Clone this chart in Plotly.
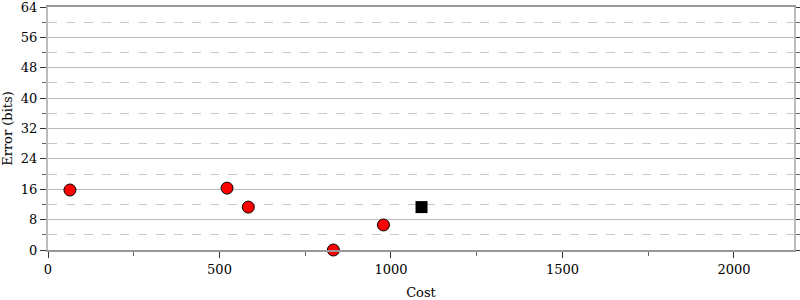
import plotly.graph_objects as go

cost_red = [64, 522, 584, 832, 978]
err_red = [15.8, 16.3, 11.3, 0.0, 6.6]
cost_black = [1089]
err_black = [11.3]

y_ticks = list(range(0, 65, 8))
x_ticks = [0, 500, 1000, 1500, 2000]

fig = go.Figure()
fig.add_trace(go.Scatter(x=cost_red, y=err_red, mode="markers",
                         marker=dict(symbol="circle", size=12, color="#ff0000",
                                     line=dict(color="black", width=1)),
                         cliponaxis=False, showlegend=False))
fig.add_trace(go.Scatter(x=cost_black, y=err_black, mode="markers",
                         marker=dict(symbol="square", size=12, color="black",
                                     line=dict(color="black", width=0)),
                         cliponaxis=False, showlegend=False))

font = dict(family="DejaVu Serif", size=13, color="black")
fig.update_layout(
    width=800, height=300,
    margin=dict(l=48, r=6, t=7, b=50),
    plot_bgcolor="white", paper_bgcolor="white",
    font=font,
    xaxis=dict(range=[0, 2175], tickvals=x_ticks, ticks="outside", ticklen=6,
               tickcolor="#333", showgrid=False, zeroline=False, automargin=False,
               showline=True, linecolor="#999", linewidth=2, mirror=True,
               title=dict(text="Cost", font=font, standoff=16),
               minor=dict(tickvals=[250, 750, 1250, 1750], ticks="outside", ticklen=4,
                          tickcolor="#666")),
    yaxis=dict(range=[0, 64], tickvals=y_ticks, ticks="outside", ticklen=6,
               tickcolor="#333", showgrid=True, gridcolor="#bbbbbb", gridwidth=1,
               zeroline=False, showline=True, linecolor="#bbbbbb", linewidth=2,
               mirror="allticks", automargin=False, ticklabeloverflow="allow",
               title=dict(text="Error (bits)", font=font, standoff=6),
               minor=dict(tickvals=list(range(4, 64, 8)), ticks="outside", ticklen=4,
                          tickcolor="#666", showgrid=True, gridcolor="#c8c8c8",
                          griddash="dash", gridwidth=1)),
)
fig.write_html("out.html")
